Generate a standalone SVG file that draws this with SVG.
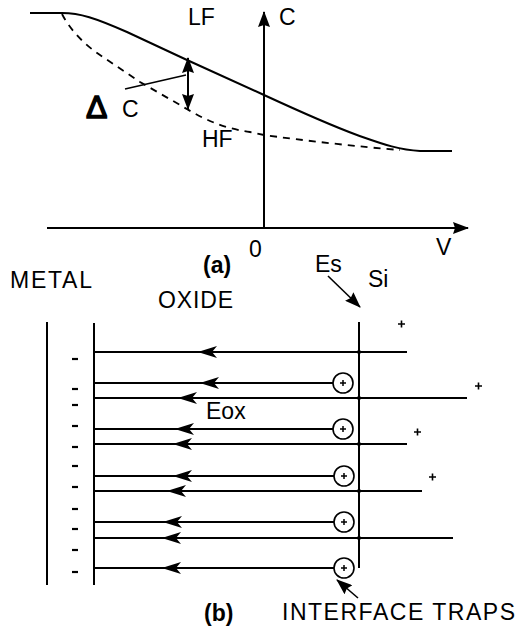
<svg xmlns="http://www.w3.org/2000/svg" width="518" height="633" viewBox="0 0 518 633">
<style>
.ln{stroke:#000;stroke-width:2;fill:none}
.th{stroke:#000;stroke-width:1.6;fill:none}
.ds{stroke:#000;stroke-width:1.8;fill:none;stroke-dasharray:7,6}
.t{font-family:"Liberation Sans",Arial,sans-serif;font-size:23px;fill:#000}
.b{font-family:"Liberation Sans",Arial,sans-serif;font-size:23px;font-weight:bold;fill:#000}
.fa{marker-end:url(#fl)}
</style>
<defs>
<marker id="ah" viewBox="0 0 16 12" refX="15" refY="6" markerWidth="16" markerHeight="12" markerUnits="userSpaceOnUse" orient="auto">
<path d="M0,0 L16,6 L0,12 L2,6 Z" fill="#000"/>
</marker>
<marker id="fl" viewBox="0 0 16 12" refX="15" refY="6" markerWidth="16" markerHeight="12" markerUnits="userSpaceOnUse" orient="auto">
<path d="M0,0 L16,5 L16,7 L0,12 L5,6 Z" fill="#000"/>
</marker>
</defs>

<g id="axes">
<line class="ln" x1="264" y1="228" x2="264" y2="12" marker-end="url(#ah)"/>
<line class="ln" x1="47" y1="228" x2="468" y2="228" marker-end="url(#ah)"/>
<text class="t" x="279" y="25">C</text>
<text class="t" x="249" y="257">0</text>
<text class="t" x="436" y="255">V</text>
<text class="b" x="203" y="273">(a)</text>
</g>

<g id="curve-lf">
<path class="ln" d="M30,13 L62,13 C80,13 95,18 127,32 L187,60 L264,95 C290,107 330,125 357,135 C380,143 398,150 420,151 L452,151"/>
<text class="t" x="188" y="25">LF</text>
</g>

<g id="curve-hf">
<path class="ds" d="M62,14 C70,30 85,45 100,55 L140,82 L180,105 C200,117 220,128 250,132 L264,135 C300,140 360,147 400,150"/>
<text class="t" x="202" y="147">HF</text>
</g>

<g id="delta-c">
<line class="ln" x1="188" y1="107" x2="188" y2="58" marker-end="url(#ah)"/>
<line class="ln" x1="188" y1="62" x2="188" y2="109" marker-end="url(#ah)"/>
<line class="th" x1="125" y1="89" x2="186" y2="75"/>
<text class="t" x="86" y="118" style="font-size:32px" stroke="#000" stroke-width="1.5">Δ</text>
<text class="t" x="122" y="117">C</text>
</g>

<g id="labels-b">
<text class="t" x="10" y="288" textLength="82" lengthAdjust="spacing">METAL</text>
<text class="t" x="158" y="308" textLength="75" lengthAdjust="spacing">OXIDE</text>
<text class="t" x="315" y="272">Es</text>
<text class="t" x="368" y="287">Si</text>
<text class="t" x="206" y="419">Eox</text>
<text class="b" x="204" y="621">(b)</text>
<text class="t" x="282" y="620" textLength="233" lengthAdjust="spacing">INTERFACE TRAPS</text>
</g>

<g id="metal">
<line class="ln" x1="47" y1="322" x2="47" y2="585"/>
<g stroke="#000" stroke-width="2.2">
<line x1="72" y1="359" x2="78" y2="359"/>
<line x1="72" y1="389" x2="78" y2="389"/>
<line x1="72" y1="405" x2="78" y2="405"/>
<line x1="72" y1="426" x2="78" y2="426"/>
<line x1="72" y1="447" x2="78" y2="447"/>
<line x1="72" y1="466" x2="78" y2="466"/>
<line x1="72" y1="487" x2="78" y2="487"/>
<line x1="72" y1="509" x2="78" y2="509"/>
<line x1="72" y1="529" x2="78" y2="529"/>
<line x1="72" y1="550" x2="78" y2="550"/>
<line x1="72" y1="572" x2="78" y2="572"/>
</g>
</g>

<g id="oxide">
<line class="ln" x1="94" y1="323" x2="94" y2="585"/>
</g>

<g id="silicon">
<line class="ln" x1="359" y1="322" x2="359" y2="568"/>
<g fill="#000">
<circle cx="359" cy="352" r="2"/>
<circle cx="359" cy="398" r="2"/>
<circle cx="359" cy="444" r="2"/>
<circle cx="359" cy="491" r="2"/>
<circle cx="359" cy="538" r="2"/>
</g>
<g stroke="#000" stroke-width="1.6">
<path d="M398,324 h7 M401.5,320.5 v7"/>
<path d="M475,386 h7 M478.5,382.5 v7"/>
<path d="M414,432 h7 M417.5,428.5 v7"/>
<path d="M429,477 h7 M432.5,473.5 v7"/>
</g>
</g>

<g id="traps">
<g class="th" stroke-width="1.8">
<circle cx="343" cy="383" r="10"/>
<circle cx="343" cy="429" r="10"/>
<circle cx="344" cy="476" r="10"/>
<circle cx="344" cy="522" r="10"/>
<circle cx="344" cy="568" r="10"/>
</g>
<g stroke="#000" stroke-width="1.5">
<path d="M340,383 h6 M343,380 v6"/>
<path d="M340,429 h6 M343,426 v6"/>
<path d="M341,476 h6 M344,473 v6"/>
<path d="M341,522 h6 M344,519 v6"/>
<path d="M341,568 h6 M344,565 v6"/>
</g>
</g>

<g id="connectors">
<g class="ln">
<line x1="407" y1="352" x2="94" y2="352"/>
<line x1="333" y1="383" x2="94" y2="383"/>
<line x1="467" y1="398" x2="94" y2="398"/>
<line x1="333" y1="429" x2="94" y2="429"/>
<line x1="407" y1="444" x2="94" y2="444"/>
<line x1="334" y1="476" x2="94" y2="476"/>
<line x1="422" y1="491" x2="94" y2="491"/>
<line x1="334" y1="522" x2="94" y2="522"/>
<line x1="453" y1="538" x2="94" y2="538"/>
<line x1="334" y1="568" x2="94" y2="568"/>
</g>
<g>
<line class="fa" x1="230" y1="352" x2="202" y2="352" stroke="none"/>
<line class="fa" x1="230" y1="383" x2="204" y2="383" stroke="none"/>
<line class="fa" x1="210" y1="398" x2="182" y2="398" stroke="none"/>
<line class="fa" x1="210" y1="429" x2="179" y2="429" stroke="none"/>
<line class="fa" x1="210" y1="444" x2="177" y2="444" stroke="none"/>
<line class="fa" x1="210" y1="476" x2="177" y2="476" stroke="none"/>
<line class="fa" x1="200" y1="491" x2="171" y2="491" stroke="none"/>
<line class="fa" x1="200" y1="522" x2="167" y2="522" stroke="none"/>
<line class="fa" x1="200" y1="538" x2="166" y2="538" stroke="none"/>
<line class="fa" x1="200" y1="568" x2="166" y2="568" stroke="none"/>
</g>
<line class="th" x1="328" y1="276" x2="360" y2="307" marker-end="url(#ah)"/>
<line class="th" x1="358" y1="598" x2="337" y2="580" marker-end="url(#ah)"/>
</g>
</svg>
